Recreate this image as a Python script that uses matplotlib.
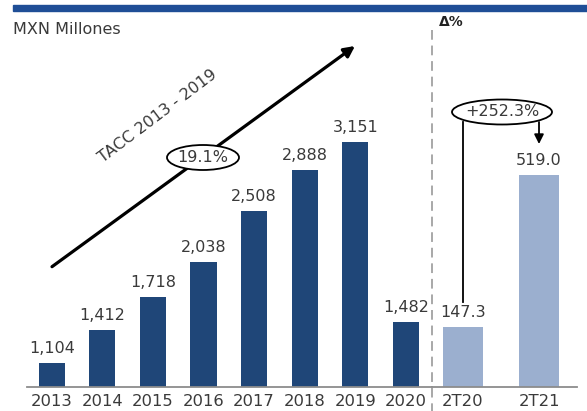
import matplotlib.pyplot as plt
from matplotlib.patches import Ellipse, Rectangle
from matplotlib.lines import Line2D

# data
years = ['2013', '2014', '2015', '2016', '2017', '2018', '2019', '2020']
annual = [1104, 1412, 1718, 2038, 2508, 2888, 3151, 1482]
annual_lbl = ['1,104', '1,412', '1,718', '2,038', '2,508', '2,888', '3,151', '1,482']
quarters = ['2T20', '2T21']
quarterly = [147.3, 519.0]
quarterly_lbl = ['147.3', '519.0']

dark = '#1f4678'
light = '#9bafcf'
txt = '#3a3a3a'

W, H = 587, 411
fig = plt.figure(figsize=(W/100, H/100), dpi=100)

def fx(px):
    return px / W

def fy(py):
    return 1 - py / H

# top blue band
fig.patches.append(Rectangle((fx(13), fy(10.7)), fx(587) - fx(13), (10.7 - 5) / H,
                             transform=fig.transFigure, color='#1f4e96', zorder=5))

ax1 = fig.add_axes([fx(27), fy(387), fx(432) - fx(27), fy(30) - fy(387)])
ax2 = fig.add_axes([fx(432), fy(387), fx(577) - fx(432), fy(30) - fy(387)])

x1 = list(range(len(years)))
ax1.bar(x1, annual, width=0.52, color=dark, bottom=0)
ax1.set_xlim(-0.488, 7.516)
ax1.set_ylim(880, 4186)
for i, v in enumerate(annual):
    ax1.annotate(annual_lbl[i], (x1[i], v), xytext=(0, 5), textcoords='offset points',
                 ha='center', va='bottom', fontsize=11.5, color=txt)
ax1.set_xticks(x1)
ax1.set_xticklabels(years)

x2 = list(range(len(quarters)))
ax2.bar(x2, quarterly, width=0.526, color=light)
ax2.set_xlim(-0.408, 1.5)
ax2.set_ylim(0, 873)
for i, v in enumerate(quarterly):
    ax2.annotate(quarterly_lbl[i], (x2[i], v), xytext=(0, 5), textcoords='offset points',
                 ha='center', va='bottom', fontsize=11.5, color=txt)
ax2.set_xticks(x2)
ax2.set_xticklabels(quarters)

for ax in (ax1, ax2):
    ax.set_facecolor('none')
    for s in ('top', 'right', 'left'):
        ax.spines[s].set_visible(False)
    ax.spines['bottom'].set_color('#8c8c8c')
    ax.spines['bottom'].set_linewidth(1.3)
    ax.set_yticks([])
    ax.tick_params(axis='x', length=0, pad=5, labelsize=11.8, labelcolor=txt)

# separator
fig.lines.append(Line2D([fx(432), fx(432)], [fy(30), fy(411)], transform=fig.transFigure,
                        color='#a8a8a8', lw=1.4, dashes=(5, 3)))

fig.text(fx(13), fy(29), 'MXN Millones', fontsize=11.5, color=txt, va='center', ha='left')
fig.text(fx(439), fy(22), 'Δ%', fontsize=10, color='#222222', fontweight='bold',
         va='center', ha='left')

# growth arrow
fig.add_artist(plt.Annotation('', xy=(fx(355), fy(46)), xytext=(fx(52), fy(266.7)),
                              xycoords='figure fraction', textcoords='figure fraction',
                              arrowprops=dict(arrowstyle='-|>', color='black', lw=2.3,
                                              mutation_scale=16, shrinkA=0, shrinkB=0)))
fig.text(fx(158), fy(116), 'TACC 2013 - 2019', rotation=37, fontsize=11.5, color=txt,
         ha='center', va='center', rotation_mode='anchor')
fig.patches.append(Ellipse((fx(203), fy(157.5)), 72 / W, 25 / H, transform=fig.transFigure,
                           facecolor='white', edgecolor='black', lw=1.3, zorder=6))
fig.text(fx(203), fy(157.5), '19.1%', fontsize=11.5, color=txt, ha='center', va='center',
         zorder=7)

# quarterly change
fig.lines.append(Line2D([fx(463), fx(463)], [fy(122), fy(302)], transform=fig.transFigure,
                        color='black', lw=1.3))
fig.add_artist(plt.Annotation('', xy=(fx(539), fy(144)), xytext=(fx(539), fy(122)),
                              xycoords='figure fraction', textcoords='figure fraction',
                              arrowprops=dict(arrowstyle='-|>', color='black', lw=1.3,
                                              mutation_scale=14, shrinkA=0, shrinkB=0)))
fig.patches.append(Ellipse((fx(502), fy(112)), 100 / W, 25 / H, transform=fig.transFigure,
                           facecolor='white', edgecolor='black', lw=1.3, zorder=6))
fig.text(fx(502), fy(112), '+252.3%', fontsize=11.5, color=txt, ha='center', va='center',
         zorder=7)

fig.savefig('out.png', dpi=100)
